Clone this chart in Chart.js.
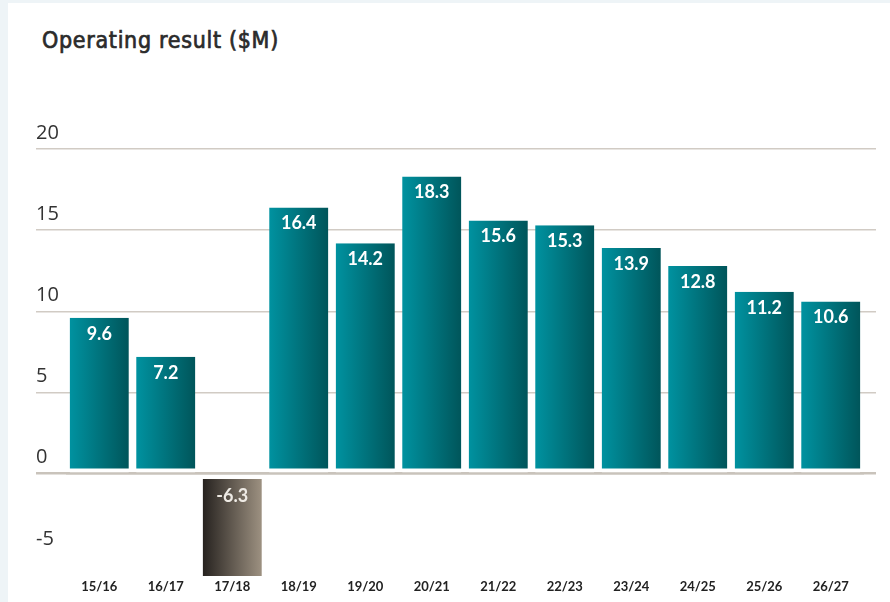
<!DOCTYPE html>
<html>
<head>
<meta charset="utf-8">
<script src="https://cdn.jsdelivr.net/npm/chart.js@4.4.1/dist/chart.umd.min.js"></script>
<style>
  html, body { margin: 0; padding: 0; }
  body { width: 890px; height: 602px; background: #eef4f7; position: relative; overflow: hidden; }
  #panel { position: absolute; left: 8px; top: 3px; right: 0; bottom: 0; background: #fff; }
  #title { position: absolute; left: 42px; top: 26px; line-height: 28px; font-size: 23px;
           font-family: "DejaVu Sans Condensed", sans-serif; letter-spacing: 0.7px; color: #2b2b2b;
           -webkit-text-stroke: 0.7px #2b2b2b; }
  #chart { position: absolute; left: 0; top: 0; }
</style>
</head>
<body>
<div id="panel"></div>
<div id="title">Operating result ($M)</div>
<canvas id="chart" width="890" height="602"></canvas>
<script>
const years = ['15/16', '16/17', '17/18', '18/19', '19/20', '20/21', '21/22', '22/23', '23/24', '24/25', '25/26', '26/27']
const results = [9.6, 7.2, -6.3, 16.4, 14.2, 18.3, 15.6, 15.3, 13.9, 12.8, 11.2, 10.6]
const yMin = -6.3
const yMax = 20
const yStep = 5

const gridColor = '#d1cbc4'
const zeroColor = '#c9c3bb'
const clear = 'rgba(0,0,0,0)'

// left-to-right gradient per bar: teal for surpluses, brown-grey for the deficit
function barFill(ctx) {
    const chart = ctx.chart
    const x = chart.scales.x
    const v = results[ctx.dataIndex]
    const flat = v >= 0 ? '#00737c' : '#5e564e'
    if (!x) return flat
    const cx = x.getPixelForValue(ctx.dataIndex)
    const half = x.width / years.length * 0.89 / 2
    if (!isFinite(cx) || !isFinite(half) || half <= 0) return flat
    const g = chart.ctx.createLinearGradient(cx - half, 0, cx + half, 0)
    if (v >= 0) {
        g.addColorStop(0, '#0092a0')
        g.addColorStop(1, '#00555a')
    } else {
        g.addColorStop(0, '#26221f')
        g.addColorStop(1, '#9d9181')
    }
    return g
}

// white figures inside the top of each bar
const valueLabels = {
    id: 'valueLabels',
    afterDatasetsDraw(chart) {
        const ctx = chart.ctx
        const meta = chart.getDatasetMeta(0)
        ctx.save()
        ctx.font = 'bold 18px Lato'
        ctx.textAlign = 'center'
        ctx.textBaseline = 'middle'
        meta.data.forEach((bar, i) => {
            const v = results[i]
            ctx.fillStyle = v >= 0 ? '#ffffff' : '#eeeae4'
            const y = v >= 0 ? bar.y + 16 : bar.base + 21
            ctx.fillText(v.toFixed(1), bar.x, y)
        })
        ctx.restore()
    }
}

new Chart(document.getElementById('chart').getContext('2d'), {
    type: 'bar',
    data: {
        labels: years,
        datasets: [{
            data: results,
            backgroundColor: barFill,
            borderColor: '#ffffff',
            borderSkipped: false,
            borderWidth: ctx => results[ctx.dataIndex] >= 0
                ? { top: 0, left: 0, right: 0, bottom: 4 }
                : { top: 4, left: 0, right: 0, bottom: 0 },
            barPercentage: 0.89,
            categoryPercentage: 1
        }]
    },
    options: {
        responsive: false,
        animation: false,
        layout: { padding: { left: 36, right: 14, top: 149, bottom: 0 } },
        plugins: { legend: { display: false }, tooltip: { enabled: false } },
        scales: {
            x: {
                grid: { display: false, drawTicks: false, tickLength: 0 },
                border: { display: false },
                ticks: { color: '#222', padding: 3, font: { family: 'Lato', weight: 'bold', size: 13 } },
                afterFit: s => { s.height = 26 }
            },
            y: {
                min: yMin,
                max: yMax,
                border: { display: false },
                grid: {
                    color: c => c.tick.value === -5 ? clear : (c.tick.value === 0 ? zeroColor : gridColor),
                    lineWidth: c => c.tick.value === 0 ? 2.5 : 1.5,
                    tickLength: 30
                },
                ticks: {
                    stepSize: yStep,
                    includeBounds: false,
                    crossAlign: 'far',
                    labelOffset: -16,
                    padding: 0,
                    color: '#333',
                    font: { family: 'Open Sans', size: 20 }
                },
                afterFit: s => { s.width = 30 }
            },
            // right-hand stub of the gridlines, and the zero line drawn over the bars
            y2: {
                position: 'right',
                min: yMin,
                max: yMax,
                z: 1,
                border: { display: false },
                grid: {
                    color: c => c.tick.value === 0 ? zeroColor : clear,
                    lineWidth: c => c.tick.value === 0 ? 2.5 : 1.5,
                    tickColor: c => c.tick.value === -5 ? clear : (c.tick.value === 0 ? zeroColor : gridColor),
                    tickLength: 12
                },
                ticks: { stepSize: yStep, includeBounds: false, display: false },
                afterFit: s => { s.width = 12 }
            }
        }
    },
    plugins: [valueLabels]
})
</script>
</body>
</html>
